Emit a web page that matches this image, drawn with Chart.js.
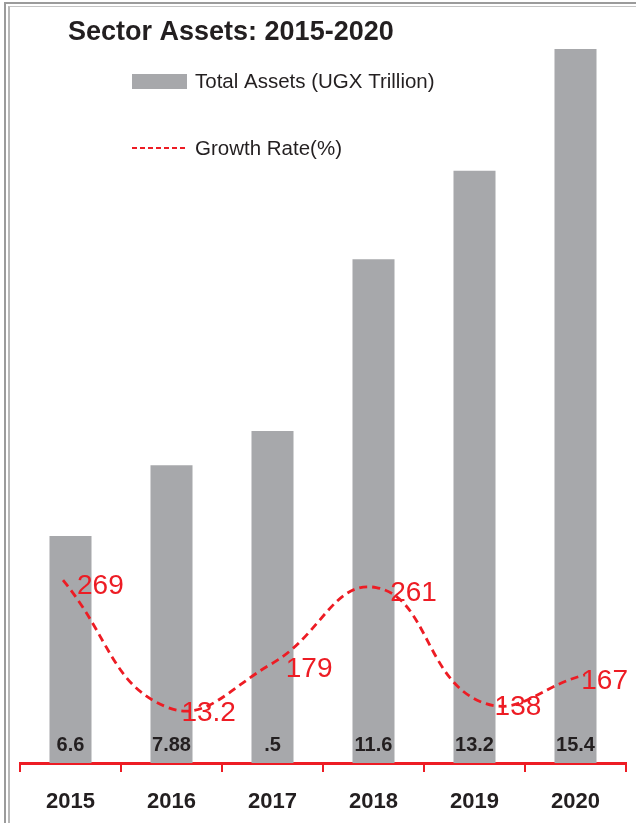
<!DOCTYPE html>
<html>
<head>
<meta charset="utf-8">
<title>Sector Assets: 2015-2020</title>
<script src="https://cdn.jsdelivr.net/npm/chart.js@4.4.1/dist/chart.umd.min.js"></script>
<style>
  html, body { margin: 0; padding: 0; background: #fff; }
  #wrap { position: relative; width: 636px; height: 823px; overflow: hidden; }
  .frame { position: absolute; right: -10px; bottom: -10px; }
  #frameOuter { left: 4px; top: 2px; border-left: 2px solid #9b9b9b; border-top: 2px solid #9b9b9b; }
  #frameInner { left: 8px; top: 6px; border-left: 2px solid #b8b8b8; border-top: 1px solid #c4c4c4; }
  canvas { position: absolute; left: 0; top: 0; }
</style>
</head>
<body>
<div id="wrap">
  <div class="frame" id="frameOuter"></div>
  <div class="frame" id="frameInner"></div>
  <canvas id="chart" width="636" height="823"></canvas>
</div>
<script>
// データ
const years = ['2015', '2016', '2017', '2018', '2019', '2020'];
const totalAssets = [6.6, 7.88, 8.5, 11.6, 13.2, 15.4];
const assetLabels = ['6.6', '7.88', '.5', '11.6', '13.2', '15.4'];
const growthRate = [26.9, 13.2, 17.9, 26.1, 13.8, 16.7];
const growthLabels = ['269', '13.2', '179', '261', '138', '167'];

const GREY = '#a7a8ab';
const RED = '#ed1c24';
const INK = '#231f20';
const FONT = '"Liberation Sans", Arial, sans-serif';

/**
 * タイトル・凡例・数値ラベル
 */
const decor = {
  id: 'decor',
  afterDatasetsDraw(chart) {
    const ctx = chart.ctx;
    const { bottom, right } = chart.chartArea;
    ctx.save();

    // 棒の数値
    ctx.fillStyle = INK;
    ctx.font = `bold 20px ${FONT}`;
    ctx.textAlign = 'center';
    ctx.textBaseline = 'middle';
    chart.getDatasetMeta(0).data.forEach((bar, i) => {
      ctx.fillText(assetLabels[i], bar.x, bottom - 18);
    });

    // 成長率の数値（右端ははみ出さないように）
    ctx.fillStyle = RED;
    ctx.font = `28px ${FONT}`;
    ctx.textAlign = 'left';
    chart.getDatasetMeta(1).data.forEach((pt, i) => {
      const w = ctx.measureText(growthLabels[i]).width;
      const x = Math.min(pt.x + 14, right + 2 - w);
      ctx.fillText(growthLabels[i], x, pt.y + 6);
    });
    ctx.restore();
  },
  afterDraw(chart) {
    const ctx = chart.ctx;
    const [bars, line] = chart.data.datasets;
    ctx.save();

    ctx.fillStyle = INK;
    ctx.font = `bold 27px ${FONT}`;
    ctx.textAlign = 'left';
    ctx.textBaseline = 'alphabetic';
    ctx.fillText('Sector Assets: 2015-2020', 68, 40);

    // 凡例
    ctx.font = `20.5px ${FONT}`;
    ctx.textBaseline = 'middle';
    ctx.fillStyle = bars.backgroundColor;
    ctx.fillRect(132, 74, 55, 15);
    ctx.fillStyle = INK;
    ctx.fillText(bars.label, 195, 82);

    ctx.strokeStyle = line.borderColor;
    ctx.lineWidth = 2;
    ctx.setLineDash([5, 3]);
    ctx.beginPath();
    ctx.moveTo(132, 148);
    ctx.lineTo(187, 148);
    ctx.stroke();
    ctx.setLineDash([]);
    ctx.fillText(line.label, 195, 149);
    ctx.restore();
  },
};

new Chart(document.getElementById('chart'), {
  type: 'bar',
  data: {
    labels: years,
    datasets: [
      {
        type: 'bar',
        label: 'Total Assets (UGX Trillion)',
        data: totalAssets,
        backgroundColor: GREY,
        grouped: false,
        categoryPercentage: 1,
        barPercentage: 0.416,
        xAxisID: 'x',
        yAxisID: 'y',
        order: 2,
      },
      {
        type: 'line',
        label: 'Growth Rate(%)',
        data: growthRate.map((v, i) => ({ x: i, y: v })),
        borderColor: RED,
        borderWidth: 2.8,
        borderDash: [8, 5],
        tension: 0.45,
        pointRadius: 0,
        fill: false,
        xAxisID: 'xl',
        yAxisID: 'y2',
        order: 1,
      },
    ],
  },
  options: {
    responsive: false,
    animation: false,
    layout: { padding: { top: 38, left: 20, right: 10, bottom: 0 } },
    plugins: {
      legend: { display: false },
      title: { display: false },
      tooltip: { enabled: false },
    },
    scales: {
      x: {
        type: 'category',
        offset: true,
        grid: {
          display: true,
          offset: true,
          drawOnChartArea: false,
          drawTicks: true,
          tickLength: 9,
          color: RED,
          lineWidth: 2,
        },
        border: { display: true, color: RED, width: 3 },
        ticks: {
          color: INK,
          padding: 17,
          font: { family: FONT, size: 22, weight: 'bold' },
        },
        afterFit: (axis) => { axis.height = 60; },
      },
      xl: {
        type: 'linear',
        display: false,
        offset: false,
        grid: { offset: false },
        min: -0.412,
        max: 5.393,
      },
      y: { display: false, min: 2.5, max: 15.6 },
      y2: { display: false, min: 7.2, max: 85.3 },
    },
  },
  plugins: [decor],
});
</script>
</body>
</html>
